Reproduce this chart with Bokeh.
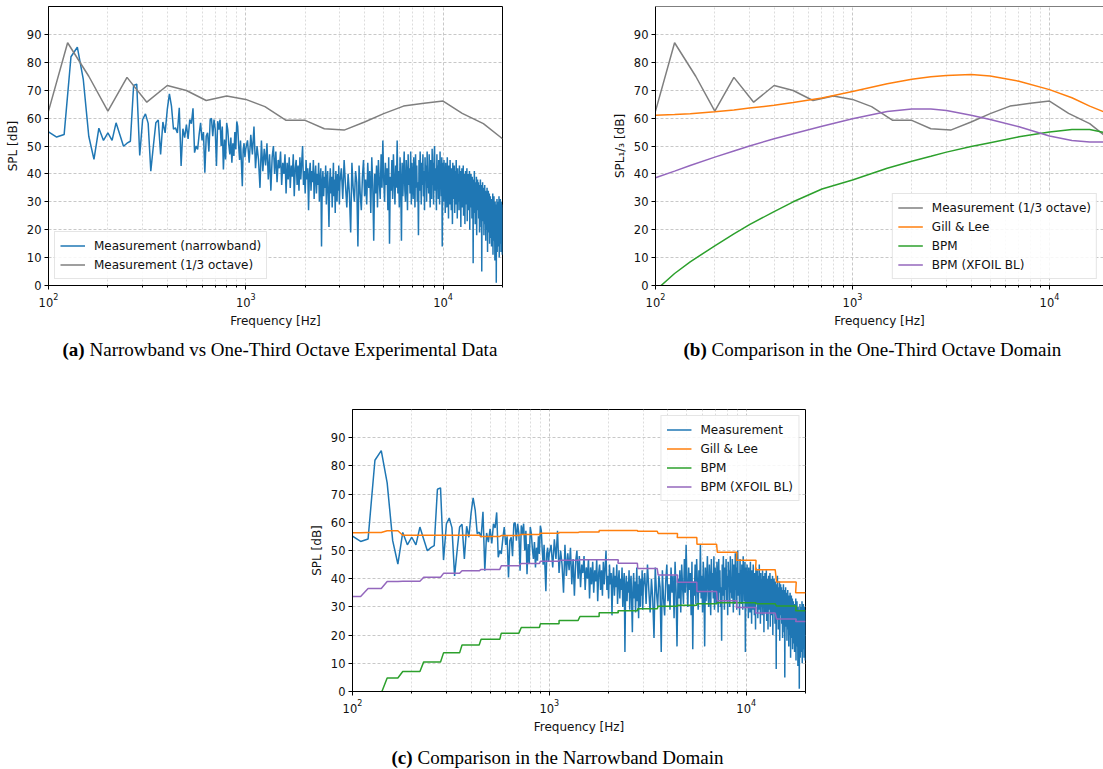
import numpy as np
from bokeh.plotting import figure
from bokeh.layouts import column, row
from bokeh.models import Range1d, FixedTicker, Span, Spacer
from bokeh.core.properties import value
from bokeh.embed import file_html
from bokeh.resources import INLINE

# ---------------- data ----------------
# one-third octave measurement
oct_freq = [100, 125, 160, 200, 250, 315, 400, 500, 630, 800, 1000, 1250, 1600,
            2000, 2500, 3150, 4000, 5000, 6300, 8000, 10000, 12500, 16000, 20000]
oct_meas = [62.5, 87.0, 75.0, 62.5, 74.6, 65.7, 71.7, 69.9, 66.3, 67.9, 66.7, 64.1, 59.2,
            59.2, 56.2, 55.7, 58.6, 61.6, 64.3, 65.3, 66.1, 61.7, 58.0, 52.6]

# smooth one-third octave predictions (panel b)
model_freq = [100, 125, 150, 200, 250, 300, 400, 500, 700, 1000, 1500, 2000, 2500,
              3000, 4000, 5000, 7000, 10000, 13000, 16000, 20000]
gill_lee_third = [61.0, 61.3, 61.6, 62.3, 62.9, 63.6, 64.6, 65.6, 67.2, 69.5, 72.3, 73.9, 74.8,
                  75.3, 75.6, 75.1, 73.2, 70.2, 67.3, 64.3, 61.5]
bpm_third = [-1.8, 4.3, 8.5, 14.2, 18.5, 21.8, 26.5, 30.0, 34.6, 37.8, 42.0, 44.5, 46.3,
             47.8, 49.8, 51.2, 53.3, 55.0, 55.9, 55.9, 54.5]
bpm_xfoil_third = [38.6, 41.0, 43.0, 46.0, 48.2, 50.0, 52.6, 54.4, 57.1, 59.8, 62.4, 63.3, 63.3,
                   62.7, 61.0, 59.5, 56.9, 53.6, 52.0, 51.4, 51.4]

# narrowband predictions, one level per one-third octave band (panel c)
gill_lee_nb = [56.3, 56.4, 57.0, 55.4, 55.4, 55.4, 55.4, 55.0, 55.3, 55.7, 56.1, 56.4, 56.6,
               57.1, 57.1, 56.8, 56.0, 54.6, 52.2, 49.4, 46.5, 43.2, 38.8, 35.0]
bpm_nb = [-5.2, -0.6, 4.8, 7.1, 10.5, 13.7, 16.5, 18.5, 20.7, 22.7, 24.0, 25.2, 26.6,
          27.9, 28.6, 29.3, 30.2, 30.6, 31.1, 31.5, 31.5, 31.1, 30.3, 28.6]
bpm_xfoil_nb = [33.7, 36.5, 39.0, 39.1, 40.5, 41.9, 42.8, 43.3, 44.6, 45.4, 46.2, 46.5, 46.7,
                46.7, 45.5, 43.6, 41.3, 38.7, 35.5, 32.2, 29.8, 27.8, 25.7, 24.8]

nb_spl_low = [  # 100 .. 1000 Hz, 10 Hz bins
    55.1, 53.2, 54.1, 82.0, 85.4, 74.0, 53.5, 45.2, 56.4, 52.0,
    54.7, 52.0, 58.3, 54.0, 49.9, 51.0, 51.7, 71.7, 72.2, 46.6,
    59.5, 61.5, 58.1, 41.0, 50.0, 58.3, 59.3, 47.0, 58.6, 54.7,
    63.1, 68.7, 64.3, 56.0, 56.5, 54.7, 63.7, 42.8, 56.2, 53.0,
    57.7, 52.5, 59.5, 58.0, 63.5, 47.6, 50.0, 48.8, 54.1, 58.3,
    52.0, 55.0, 40.4, 53.5, 54.7, 48.0, 59.5, 59.9, 53.5, 59.5,
    56.0, 42.8, 58.9, 55.9, 59.5, 50.0, 57.0, 41.6, 52.3, 45.2,
    58.3, 55.9, 50.5, 47.0, 53.0, 44.0, 51.0, 46.4, 55.0, 48.8,
    58.8, 57.0, 50.0, 45.0, 52.0, 44.0, 35.6, 48.8, 51.0, 46.0,
    49.0]
nb_spl_mid = [  # 1020 .. 3000 Hz, every 20 Hz
    52, 44, 54, 47, 57, 42, 50, 45, 35, 52,
    41, 49, 43, 51, 38, 47, 34, 46, 50, 40,
    48, 37, 45, 42, 48, 36, 44, 40, 47, 33,
    44, 38, 46, 35, 43, 39, 47, 32, 42, 45,
    36, 43, 34, 46, 38, 44, 50, 36, 41, 33,
    45, 38, 42, 27, 40, 44, 34, 41, 37, 45,
    31, 39, 43, 33, 40, 36, 44, 30, 38, 42,
    14, 37, 41, 32, 39, 35, 43, 29, 38, 41,
    31, 21, 37, 42, 33, 39, 28, 36, 44, 32,
    38, 26, 41, 35, 30, 40, 34, 43, 29, 37]
nb_spl_high = [  # 3050 .. 20000 Hz, every 50 Hz
    42, 31, 45, 36, 28, 40, 33, 19, 44, 35,
    30, 41, 37, 14, 43, 33, 27, 39, 45, 32,
    38, 29, 44, 35, 41, 26, 46, 36, 16, 40,
    33, 43, 28, 45, 37, 31, 47, 35, 52, 38,
    30, 44, 36, 42, 27, 46, 15, 39, 34, 45,
    31, 47, 38, 29, 43, 35, 52, 33, 41, 28,
    46, 37, 16, 44, 32, 40, 48, 34, 30, 45,
    39, 27, 47, 36, 42, 33, 48, 29, 44, 38,
    31, 46, 40, 28, 47, 35, 43, 30, 37, 18,
    45, 34, 48, 39, 29, 44, 36, 47, 32, 41,
    27, 46, 38, 43, 30, 48, 35, 40, 33, 47,
    37, 28, 45, 41, 31, 49, 36, 44, 29, 46,
    50, 34, 42, 38, 27, 47, 35, 43, 31, 45,
    39, 29, 48, 36, 41, 32, 46, 14, 38, 44,
    30, 45, 37, 41, 26, 44, 35, 39, 28, 46,
    33, 40, 24, 43, 36, 29, 45, 32, 38, 27,
    42, 35, 22, 44, 31, 39, 34, 43, 26, 37,
    41, 29, 45, 33, 38, 24, 42, 35, 30, 40,
    27, 43, 36, 32, 41, 21, 39, 34, 42, 28,
    37, 31, 43, 25, 38, 35, 40, 22, 36, 41,
    29, 39, 34, 42, 23, 37, 31, 40, 27, 36,
    33, 41, 20, 38, 35, 28, 40, 32, 37, 24,
    39, 30, 35, 8, 38, 33, 26, 41, 31, 36,
    22, 37, 34, 29, 39, 18, 35, 32, 38, 27,
    33, 37, 24, 36, 30, 19, 35, 28, 38, 26,
    34, 21, 36, 5, 31, 27, 37, 23, 33, 29,
    35, 18, 32, 26, 36, 22, 30, 34, 16, 31,
    25, 33, 20, 35, 28, 12, 32, 24, 34, 19,
    30, 27, 33, 15, 29, 23, 32, 17, 28, 25,
    31, 14, 27, 22, 30, 18, 33, 11, 26, 29,
    20, 32, 16, 27, 24, 9, 30, 21, 28, 13,
    25, 1, 29, 18, 31, 12, 26, 22, 17, 30,
    14, 27, 23, 32, 10, 25, 19, 28, 15, 31,
    21, 26, 12, 30, 18, 24, 16, 29, 11, 28]

nb_freq = np.concatenate([np.arange(100, 1001, 10), np.arange(1020, 3001, 20),
                          np.arange(3050, 20001, 50)])
nb_spl = np.array(nb_spl_low + nb_spl_mid + nb_spl_high, dtype=float)
assert len(nb_freq) == len(nb_spl)

y_ticks = list(range(0, 91, 10))
x_major = [100, 1000, 10000]
x_minor = [m * d for d in (100, 1000) for m in range(2, 10)] + [20000]

BLUE, ORANGE, GREEN, PURPLE, GRAY = "#1f77b4", "#ff7f0e", "#2ca02c", "#9467bd", "#7f7f7f"
SANS = "DejaVu Sans"


def band_steps(levels):
    """Piecewise-constant narrowband level over each 1/3-octave band (10 Hz bins)."""
    xs, ys = [], []
    for fc, v in zip(oct_freq, levels):
        lo = fc * 2 ** (-1 / 6)
        hi = fc * 2 ** (1 / 6)
        xs += [np.ceil(lo / 10) * 10, min(np.floor(hi / 10) * 10, 20000)]
        ys += [v, v]
    return xs, ys


def make_fig(width, height, x_end, left, right, top, bottom, ylabel):
    p = figure(width=width, height=height, x_axis_type="log",
               x_range=Range1d(100, x_end), y_range=Range1d(0, 100),
               toolbar_location=None, output_backend="svg",
               min_border_left=left, min_border_right=right,
               min_border_top=top, min_border_bottom=bottom)
    p.background_fill_color = "white"
    p.border_fill_color = "white"
    p.outline_line_color = "black"
    p.outline_line_width = 1
    p.xaxis.ticker = FixedTicker(ticks=x_major, minor_ticks=x_minor)
    p.yaxis.ticker = FixedTicker(ticks=y_ticks, minor_ticks=[])
    p.xaxis.axis_label = "Frequency [Hz]"
    p.yaxis.axis_label = ylabel
    for ax in (p.xaxis[0], p.yaxis[0]):
        ax.axis_line_color = "black"
        ax.major_tick_line_color = "black"
        ax.minor_tick_line_color = "black"
        ax.major_tick_out = 4
        ax.major_tick_in = 0
        ax.minor_tick_out = 2
        ax.minor_tick_in = 0
        ax.major_label_text_font = SANS
        ax.major_label_text_font_size = "11.5px"
        ax.major_label_text_color = "#111111"
        ax.major_label_standoff = 3
        ax.axis_label_text_font = SANS
        ax.axis_label_text_font_size = "12px"
        ax.axis_label_text_font_style = "normal"
        ax.axis_label_text_color = "#111111"
        ax.axis_label_standoff = 4
    p.xgrid.grid_line_color = "#c8c8c8"
    p.xgrid.grid_line_dash = "3 2"
    p.xgrid.minor_grid_line_color = "#dcdcdc"
    p.xgrid.minor_grid_line_dash = "2 2"
    p.ygrid.grid_line_color = "#c8c8c8"
    p.ygrid.grid_line_dash = "3 2"
    return p


def style_legend(p, loc):
    lg = p.legend[0]
    lg.location = loc
    lg.label_text_font = SANS
    lg.label_text_font_size = "12px"
    lg.label_text_color = "#111111"
    lg.glyph_width = 25
    lg.glyph_height = 17
    lg.label_height = 17
    lg.label_standoff = 9
    lg.padding = 5
    lg.spacing = 2
    lg.margin = 6
    lg.border_line_color = "#cccccc"
    lg.border_line_width = 1
    lg.background_fill_alpha = 0.85


# ---------------- (a) ----------------
pa = make_fig(560, 330, 20000, 48, 58, 6, 44, "SPL [dB]")
pa.line(nb_freq, nb_spl, line_color=BLUE, line_width=1.5, legend_label="Measurement (narrowband)")
pa.line(oct_freq, oct_meas, line_color=GRAY, line_width=1.5, legend_label="Measurement (1/3 octave)")
style_legend(pa, "bottom_left")

# ---------------- (b) ----------------
pb = make_fig(543, 330, 18800, 95, 0, 6, 44, "SPL\u2081/\u2083 [dB]")
pb.outline_line_color = None
pb.add_layout(Span(location=100, dimension="width", line_color="black", line_width=1))
pb.line(oct_freq, oct_meas, line_color=GRAY, line_width=1.5, legend_label="Measurement (1/3 octave)")
pb.line(model_freq, gill_lee_third, line_color=ORANGE, line_width=1.5, legend_label="Gill & Lee")
pb.line(model_freq, bpm_third, line_color=GREEN, line_width=1.5, legend_label="BPM")
pb.line(model_freq, bpm_xfoil_third, line_color=PURPLE, line_width=1.5, legend_label="BPM (XFOIL BL)")
style_legend(pb, "bottom_right")

# ---------------- (c) ----------------
pc = make_fig(515, 369, 20000, 52, 10, 39, 48, "SPL [dB]")
pc.line(nb_freq, nb_spl, line_color=BLUE, line_width=1.5, legend_label="Measurement")
gx, gy = band_steps(gill_lee_nb)
pc.line(gx, gy, line_color=ORANGE, line_width=1.5, legend_label="Gill & Lee")
bx, by = band_steps(bpm_nb)
pc.line(bx, by, line_color=GREEN, line_width=1.5, legend_label="BPM")
px_, py_ = band_steps(bpm_xfoil_nb)
pc.line(px_, py_, line_color=PURPLE, line_width=1.5, legend_label="BPM (XFOIL BL)")
style_legend(pc, "top_right")


# ---------------- captions ----------------
def caption_fig(height, items):
    c = figure(width=1103, height=height, x_range=Range1d(0, 1103), y_range=Range1d(0, height),
               toolbar_location=None, output_backend="svg", min_border=0,
               x_axis_location=None, y_axis_location=None, outline_line_color=None)
    c.grid.visible = False
    c.background_fill_color = "white"
    c.border_fill_color = "white"
    for xb, xr, yb, bold, rest in items:
        c.text(x=[xb], y=[yb], text=[bold], text_font=value("Liberation Serif"),
               text_font_size="19px", text_font_style="bold", text_color="black",
               text_baseline="alphabetic", text_align="left")
        c.text(x=[xr], y=[yb], text=[rest], text_font=value("Liberation Serif"),
               text_font_size="19px", text_font_style="normal", text_color="black",
               text_baseline="alphabetic", text_align="left")
    return c


cap1 = caption_fig(40, [
    (62, 89, 21, "(a)", "Narrowband vs One-Third Octave Experimental Data"),
    (683, 711, 21, "(b)", "Comparison in the One-Third Octave Domain"),
])
cap2 = caption_fig(29, [
    (391, 417, 11, "(c)", "Comparison in the Narrowband Domain"),
])

layout = column(row(pa, pb), cap1, row(Spacer(width=300, height=369), pc), cap2)

open("out.html", "w").write(file_html(layout, INLINE, "SPL comparison"))
